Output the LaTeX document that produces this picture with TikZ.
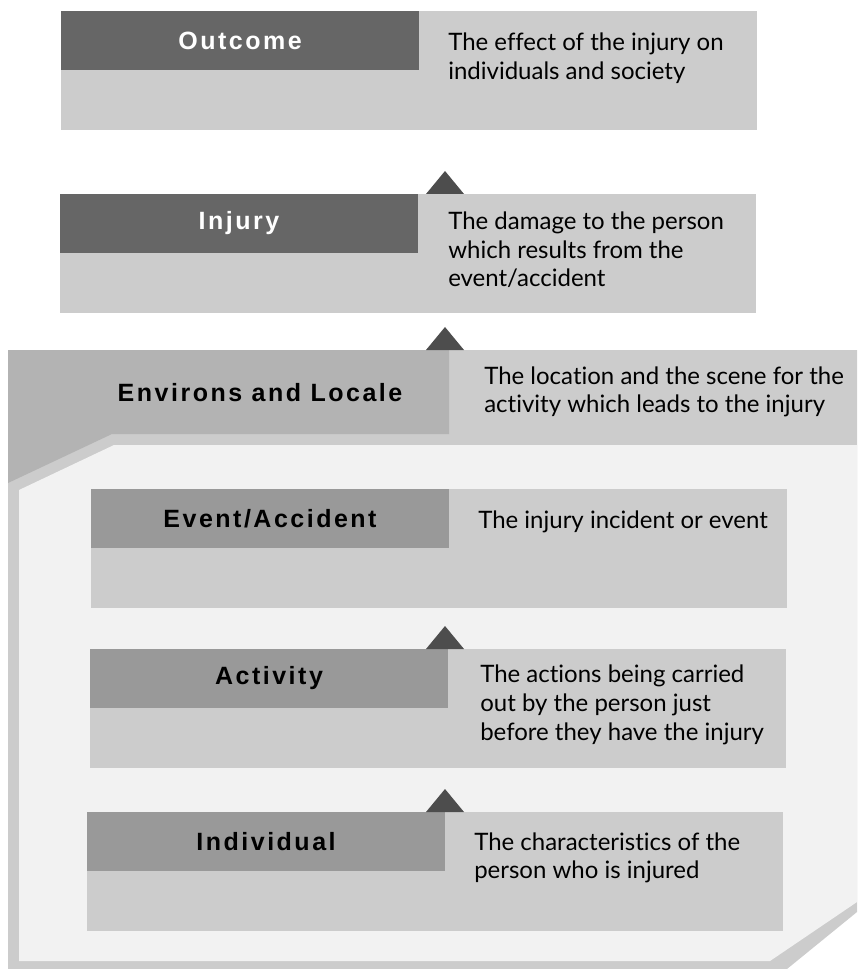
\documentclass[tikz,border=0pt]{standalone}
\usepackage{fontspec}
\setmainfont{Lato}[Ligatures={NoCommon}]
\newfontfamily\headfont[LetterSpace=10]{Liberation Sans}
\usepackage{tikz}
\usetikzlibrary{positioning,calc}

\definecolor{panelgray}{HTML}{CCCCCC}
\definecolor{darkhead}{HTML}{666666}
\definecolor{midhead}{HTML}{999999}
\definecolor{framehead}{HTML}{B3B3B3}
\definecolor{frameback}{HTML}{F2F2F2}
\definecolor{tricol}{HTML}{4D4D4D}

\begin{document}
\begin{tikzpicture}[x=0.75pt,y=-0.75pt,
  panel/.style={fill=panelgray, anchor=north west, inner sep=0pt, outer sep=0pt,
                minimum width=522pt, minimum height=89.25pt},
  head/.style={fill=#1, anchor=north west, inner sep=0pt, outer sep=0pt,
               minimum width=268.5pt, minimum height=44.25pt,
               font=\headfont\bfseries\fontsize{18.75}{22}\selectfont},
  desc/.style={anchor=west, align=left, inner sep=0pt,
               font=\fontsize{18}{21.5}\selectfont},
  uptri/.pic={\fill[tricol] (-19,0) -- (19,0) -- (0,-23) -- cycle;}
]
\useasboundingbox (0,0) rectangle (857,969);

\fill[panelgray] (8,350) -- (857,350) -- (857,912) -- (787,969) -- (8,969) -- cycle;
\fill[framehead] (8,350) -- (449,350) -- (449,434) -- (112,434) -- (8,483) -- cycle;
\fill[frameback] (19,490) -- (114,445) -- (857,445) -- (857,902) -- (770,961) -- (19,961) -- cycle;
\coordinate (frametop) at (449,350);
\coordinate (spine) at (445,0);

\node[panel] (outcome) at (61,11) {};
\node[head=darkhead, text=white] (outcomehead) at (outcome.north west) {Outcome};
\node[desc] (outcometext) at (448,58) {The effect of the injury on\\individuals and society};

\node[panel] (injury) at (60,194) {};
\node[head=darkhead, text=white] (injuryhead) at (injury.north west) {Injury};
\node[desc] (injurytext) at (448,250) {The damage to the person\\which results from the\\event/accident};

\node[font=\headfont\bfseries\fontsize{18.75}{22}\selectfont] (environs) at (260,393) {Environs and Locale};
\node[desc] (environstext) at (484,392) {The location and the scene for the\\activity which leads to the injury};

\node[panel] (event) at (91,489) {};
\node[head=midhead] (eventhead) at (event.north west) {Event/Accident};
\node[desc] (eventtext) at (478,522) {The injury incident or event};

\node[panel] (activity) at (90,649) {};
\node[head=midhead] (activityhead) at (activity.north west) {Activity};
\node[desc] (activitytext) at (480,705) {The actions being carried\\out by the person just\\before they have the injury};

\node[panel] (individual) at (87,812) {};
\node[head=midhead] (individualhead) at (individual.north west) {Individual};
\node[desc] (individualtext) at (474,858) {The characteristics of the\\person who is injured};

\pic at (spine |- injury.north) {uptri};
\pic at (spine |- frametop) {uptri};
\pic at (spine |- activity.north) {uptri};
\pic at (spine |- individual.north) {uptri};
\end{tikzpicture}
\end{document}
